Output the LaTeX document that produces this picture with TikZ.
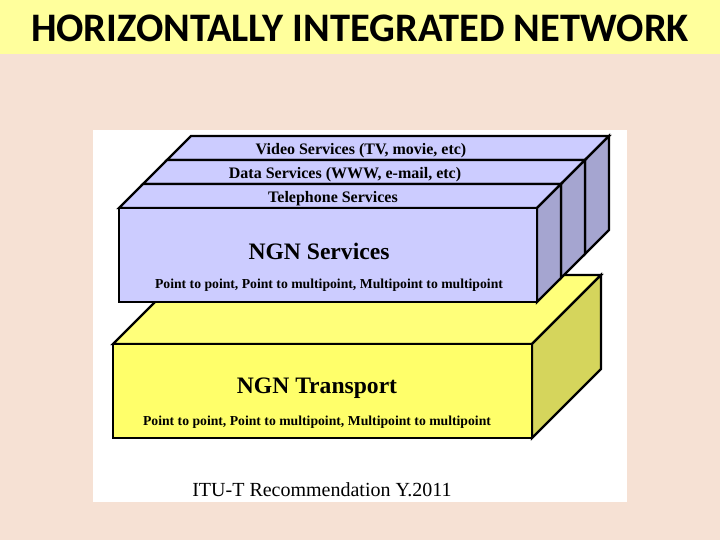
\documentclass[tikz,border=0pt]{standalone}
\usepackage{fontspec}
\setmainfont{Liberation Serif}
\newfontfamily\titlefont{Carlito}
\usetikzlibrary{positioning}
\definecolor{pagebg}{HTML}{F6E1D4}
\definecolor{titlebg}{HTML}{FFFF9C}
\definecolor{svcfront}{HTML}{CCCCFF}
\definecolor{svcside}{HTML}{A5A5D0}
\definecolor{trfront}{HTML}{FFFF6A}
\definecolor{trtop}{HTML}{FFFF7A}
\definecolor{trside}{HTML}{D5D55C}
\tikzset{
        slab edge/.style={draw=black, line width=2.4pt, line join=miter}, % outline of every box face
        svc face/.style={slab edge, fill=svcfront},
        svc side/.style={slab edge, fill=svcside},
        tr front/.style={slab edge, fill=trfront},
        tr top/.style={slab edge, fill=trtop},
        tr side/.style={slab edge, fill=trside},
    }
\tikzset{
      layer label/.style={
        font=\bfseries\fontsize{16}{16}\selectfont,
        inner sep=0pt,
      },
      big label/.style={
        font=\bfseries\fontsize{23.6}{23.6}\selectfont,
        inner sep=0pt,
      },
      mode label/.style={
        font=\bfseries\fontsize{13.7}{13.7}\selectfont,
        inner sep=0pt,
      },
  }

\begin{document}
\begin{tikzpicture}[x=1pt, y=-1pt, node distance=0pt]
    \useasboundingbox (0,0) rectangle (720,540);
    \fill[pagebg] (0,0) rectangle (720,540);
    \fill[titlebg] (0,0) rectangle (720,54);
    \fill[white] (93,130) rectangle (627,502);
    \node[font=\titlefont\bfseries\fontsize{40.5}{40.5}\selectfont, inner sep=0pt] (title) at (360,28) {HORIZONTALLY INTEGRATED NETWORK};

    % transport slab
    \draw[tr top] (113,344) -- (182,275) -- (601,275) -- (532,344) -- cycle;
    \draw[tr side] (532,344) -- (601,275) -- (601,369) -- (532,438) -- cycle;
    \draw[tr front] (113,344) rectangle (532,438);

    % service slabs, back to front
    \foreach \dx in {48,24,0} {
        \draw[svc face] (119+\dx,208-\dx) -- ++(24,-24) -- ++(418,0) -- ++(-24,24) -- cycle;
        \draw[svc side] (537+\dx,208-\dx) -- ++(24,-24) -- ++(0,94) -- ++(-24,24) -- cycle;
        \draw[svc face] (119+\dx,208-\dx) rectangle ++(418,94);
    }

    \node[layer label] (video) at (361,151) {Video Services (TV, movie, etc)};
    \node[layer label] (data) at (345,175) {Data Services (WWW, e-mail, etc)};
    \node[layer label] (tel) at (333,199) {Telephone Services};
    \node[big label] (ngnsvc) at (319,251) {NGN Services};
    \node[mode label] (svcmodes) at (329,285) {Point to point, Point to multipoint, Multipoint to multipoint};
    \node[big label] (ngntr) at (317,388) {NGN Transport};
    \node[mode label] (trmodes) at (317,422) {Point to point, Point to multipoint, Multipoint to multipoint};
    \node[font=\fontsize{20}{20}\selectfont, inner sep=0pt] (itu) at (322,490) {ITU-T Recommendation Y.2011};
\end{tikzpicture}
\end{document}
